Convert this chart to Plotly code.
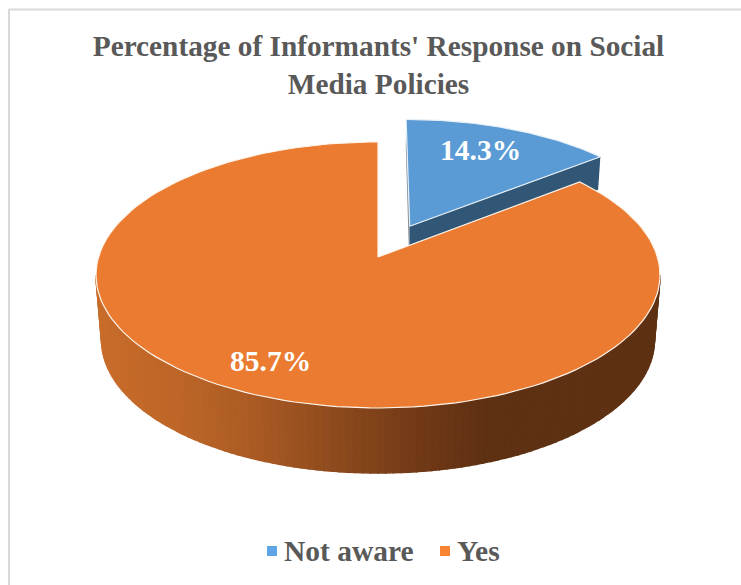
import numpy as np
import plotly.graph_objects as go

# ---- data ----
categories = ["Not aware", "Yes"]
percentages = [14.3, 85.7]
top_colors = ["#5b9bd5", "#ea7b30"]
legend_colors = ["#5ea5e8", "#f98434"]
title_lines = ["Percentage of Informants' Response on Social", "Media Policies"]

# ---- projection of the tilted disc onto the page ----
APEX_X, APEX_Y = 378.0, 257.0
B, A, K = 279.4, 130.6, 0.135
PULL = 0.27
BLUE_R = 0.985
SERIF = "Liberation Serif"


def project(u, v):
    w = 1 + K * v
    return APEX_X + B * u / w, APEX_Y - A * v / w


def wedge(start, end, du=0.0, dv=0.0, r=1.0):
    th = np.linspace(start, end, 160)
    u = np.concatenate([[du], du + r * np.sin(th), [du]])
    v = np.concatenate([[dv], dv + r * np.cos(th), [dv]])
    return project(u, v)


def hex_mix(stops, x):
    xs = [s[0] for s in stops]
    rgb = [np.interp(x, xs, [int(s[1][i:i + 2], 16) for s in stops]) for i in (1, 3, 5)]
    return "rgb(%d,%d,%d)" % tuple(rgb)


WALL_STOPS = [(96, "#c96d2b"), (180, "#bd6628"), (260, "#a95a24"), (340, "#8c4a1d"),
              (420, "#723a17"), (490, "#5e3113"), (660, "#5e3113")]
DEPTH = 65.0
SHRINK = 0.98

fig = go.Figure()


def poly(x, y, color, line=None, lw=0.0):
    fig.add_trace(go.Scatter(x=x, y=y, mode="lines", fill="toself", fillcolor=color,
                             line=dict(color=line or color, width=lw),
                             hoverinfo="skip", showlegend=False))


fractions = np.array(percentages) / sum(percentages)
end_angle = 2 * np.pi * fractions[0]
mid = end_angle / 2
du, dv = PULL * np.sin(mid), PULL * np.cos(mid)


def blue_drop(x, y):
    d = 28 + (y - 120) * 5 / 37
    return APEX_X + (x - APEX_X) * 0.99, y + d


# exploded slice: walls, then top
ax, ay = project(du, dv)
tx, ty = project(du, dv + BLUE_R)
rx, ry = project(du + BLUE_R * np.sin(end_angle), dv + BLUE_R * np.cos(end_angle))
bax, bay = blue_drop(ax, ay)
btx, bty = blue_drop(tx, ty)
brx, bry = blue_drop(rx, ry)
poly([tx, ax, bax, btx, tx], [ty, ay, bay, bty, ty], "#7d8a94")
poly([ax, rx, brx, bax, ax], [ay, ry, bry, bay, ay], "#325776")
bx, by = wedge(0, end_angle, du, dv, BLUE_R)
poly(bx, by, top_colors[0], "#e8f0f7", 1.2)

# large slice: front wall, in thin strips for the shading
ECX, ECY = APEX_X, 275.0
ERX, ERY = 282.0, 133.0
ts = np.linspace(np.pi, 0, 113)
for t0, t1 in zip(ts[:-1], ts[1:]):
    seg = np.linspace(t0, t1, 4)
    xt = ECX + ERX * np.cos(seg)
    yt = ECY + ERY * np.sin(seg)
    xb = ECX + ERX * SHRINK * np.cos(seg)
    yb = yt + DEPTH
    xs = np.concatenate([xt, xb[::-1], xt[:1]])
    ys = np.concatenate([yt, yb[::-1], yt[:1]])
    c = hex_mix(WALL_STOPS, xt.mean())
    poly(xs, ys, c, c, 1.6)

ox, oy = wedge(end_angle, 2 * np.pi)
poly(ox, oy, top_colors[1], "#fff4ea", 1.2)

# legend entries
legend_x = [272, 445]
for name, col, lx in zip(categories, legend_colors, legend_x):
    fig.add_trace(go.Scatter(x=[lx], y=[551], mode="markers", name=name,
                             hoverinfo="skip", showlegend=False,
                             marker=dict(symbol="square", size=10, color=col)))
    fig.add_trace(go.Scatter(x=[lx + 12], y=[554], mode="text", text=[name],
                             textposition="middle right", hoverinfo="skip", showlegend=False,
                             textfont=dict(family=SERIF, size=29.5, color="#595959", weight="bold")))

label_pos = [(480, 150), (270, 361)]
annotations = [dict(x=p[0], y=p[1], xref="x", yref="y", showarrow=False,
                    text=f"{v:.1f}%",
                    font=dict(family=SERIF, size=29.5, color="white", weight="bold"))
               for v, p in zip(percentages, label_pos)]

fig.update_layout(
    width=741, height=585, margin=dict(l=0, r=0, t=0, b=0),
    paper_bgcolor="white", plot_bgcolor="white",
    xaxis=dict(range=[0, 741], visible=False, fixedrange=True),
    yaxis=dict(range=[585, 0], visible=False, fixedrange=True),
    title=dict(text="<br>".join(title_lines), x=378.5 / 741, xanchor="center", y=1 - 56 / 585,
               yanchor="top", font=dict(family=SERIF, size=29.3, color="#595959", weight="bold")),
    annotations=annotations,
    shapes=[dict(type="line", xref="paper", yref="paper", x0=8.5 / 741, x1=1, y0=1 - 9.5 / 585, y1=1 - 9.5 / 585,
                 line=dict(color="#d9d9d9", width=2)),
            dict(type="line", xref="paper", yref="paper", x0=9 / 741, x1=9 / 741, y0=0, y1=1 - 9.5 / 585,
                 line=dict(color="#d9d9d9", width=2))],
)

fig.write_html("out.html", config=dict(displayModeBar=False),
               post_script="document.body.style.margin='0';document.body.style.overflow='hidden';")
